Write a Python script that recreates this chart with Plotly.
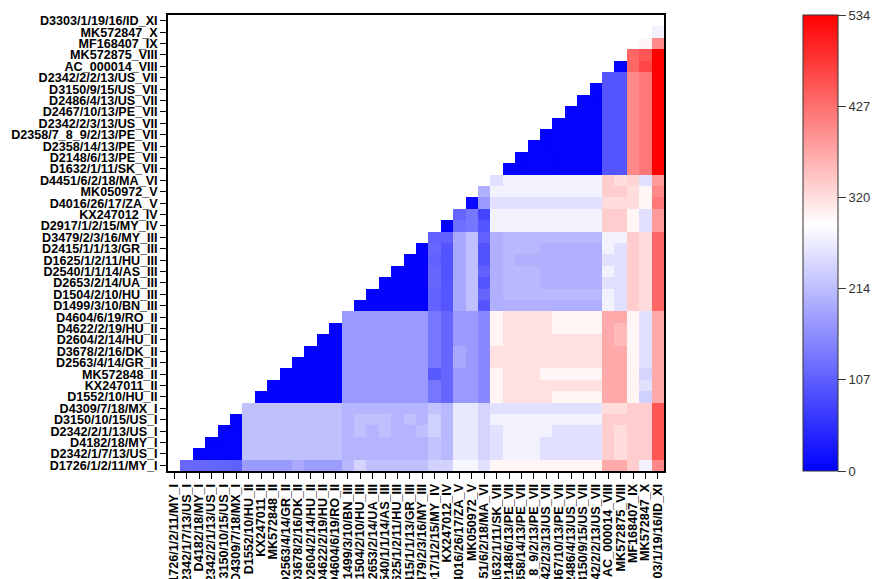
import plotly.graph_objects as go

# Sequence names, bottom (index 0) to top (index 39); same order left-to-right on x
names = [
    "D1726/1/2/11/MY_I", "D2342/1/7/13/US_I", "D4182/18/MY_I", "D2342/2/1/13/US_I",
    "D3150/10/15/US_I", "D4309/7/18/MX_I",
    "D1552/10/HU_II", "KX247011_II", "MK572848_II", "D2563/4/14/GR_II",
    "D3678/2/16/DK_II", "D2604/2/14/HU_II", "D4622/2/19/HU_II", "D4604/6/19/RO_II",
    "D1499/3/10/BN_III", "D1504/2/10/HU_III", "D2653/2/14/UA_III", "D2540/1/1/14/AS_III",
    "D1625/1/2/11/HU_III", "D2415/1/1/13/GR_III", "D3479/2/3/16/MY_III",
    "D2917/1/2/15/MY_IV", "KX247012_IV",
    "D4016/26/17/ZA_V", "MK050972_V",
    "D4451/6/2/18/MA_VI",
    "D1632/1/11/SK_VII", "D2148/6/13/PE_VII", "D2358/14/13/PE_VII",
    "D2358/7_8_9/2/13/PE_VII", "D2342/2/3/13/US_VII", "D2467/10/13/PE_VII",
    "D2486/4/13/US_VII", "D3150/9/15/US_VII", "D2342/2/2/13/US_VII",
    "AC_000014_VIII", "MK572875_VIII",
    "MF168407_IX", "MK572847_X", "D3303/1/19/16/ID_XI",
]

# Upper-triangle distances: row i holds values for columns i+1 .. 39
row_00 = [118, 116, 114, 112, 110] + [175]*4 + [192] + [176]*3 + [208, 240] + [217]*5 + [238, 238] + [278, 278] + [255] + [298]*9 + [370, 370, 337, 272, 403]
row_01 = [3, 4, 3, 4] + [217]*8 + [205]*7 + [220, 208, 262, 262, 240, 255] + [274]*3 + [255]*5 + [337, 321, 337, 337, 452]
row_02 = [3, 3, 4] + [217]*8 + [205]*7 + [220, 208, 262, 262, 240, 255] + [274]*3 + [255]*5 + [337, 321, 337, 337, 452]
row_03 = [3, 3] + [217]*8 + [205, 217, 205, 217, 205, 205, 217] + [235, 208, 262, 262, 240, 255] + [274]*4 + [255]*4 + [337, 321, 337, 337, 452]
row_04 = [3] + [217]*8 + [205, 217, 217, 217, 205, 217, 205] + [235, 208, 262, 262, 240] + [274]*9 + [337, 337, 337, 337, 452]
row_05 = [217]*8 + [205]*7 + [220, 208, 262, 262, 240] + [255]*9 + [321, 321, 337, 337, 452]
row_06 = [3]*7 + [175]*7 + [134, 115, 175, 175, 154, 298] + [317]*4 + [298]*4 + [370, 370, 298, 235, 370]
row_07 = [3]*6 + [175]*7 + [134, 115, 175, 175, 154, 298] + [317]*8 + [370, 370, 298, 255, 370]
row_08 = [3]*5 + [175]*7 + [100, 115, 175, 175, 154, 298] + [317]*3 + [298]*5 + [370, 370, 298, 240, 370]
row_09 = [3]*4 + [175]*7 + [134, 115, 190, 175, 154, 317] + [317]*8 + [370, 370, 298, 255, 370]
row_10 = [3]*3 + [175]*7 + [134, 115, 190, 175, 154, 317] + [317]*8 + [370, 370, 298, 255, 370]
row_11 = [3]*2 + [175]*7 + [134, 115, 175, 175, 154, 298] + [317]*8 + [370, 355, 298, 255, 370]
row_12 = [3] + [175]*7 + [134, 115, 175, 175, 154, 298] + [317]*4 + [298]*4 + [370, 355, 298, 255, 370]
row_13 = [175]*7 + [134, 115, 175, 175, 154, 298] + [317]*4 + [298]*4 + [370, 370, 298, 255, 370]
row_14 = [3]*6 + [112, 96, 190, 217, 96] + [199]*9 + [274, 255, 337, 321, 436]
row_15 = [3]*5 + [112, 96, 190, 217, 115, 199] + [208]*8 + [274, 255, 337, 321, 436]
row_16 = [3]*4 + [115, 96, 190, 217, 96, 199] + [208]*3 + [199]*5 + [255, 255, 337, 321, 436]
row_17 = [3]*3 + [115, 94, 190, 217, 110, 199] + [208]*3 + [199]*5 + [274, 255, 337, 321, 436]
row_18 = [3]*2 + [110, 94, 190, 217, 94, 199, 208] + [199]*7 + [255, 255, 337, 321, 436]
row_19 = [3] + [115, 94, 190, 217, 94, 199] + [208]*3 + [199]*5 + [274, 255, 337, 321, 436]
row_20 = [110, 110, 190, 217, 110, 199] + [208]*8 + [274, 274, 337, 321, 436]
row_21 = [3, 125, 134, 96] + [274]*9 + [337, 337, 298, 255, 386]
row_22 = [115, 134, 77] + [274]*9 + [337, 337, 298, 255, 386]
row_23 = [10, 175] + [255]*9 + [321, 321, 321, 298, 419]
row_24 = [199] + [274]*9 + [337, 337, 321, 298, 403]
row_25 = [255] + [274]*8 + [337, 321, 330, 255, 386]
row_26 = [4, 3, 5, 4, 3, 6, 4, 5] + [96, 96, 403, 419, 534]
row_27 = [3, 5, 4, 3, 5, 4, 6] + [96, 96, 403, 419, 534]
row_28 = [4, 3, 5, 4, 3, 5] + [96, 96, 403, 419, 534]
row_29 = [3, 4, 3, 5, 4] + [96, 96, 403, 419, 534]
row_30 = [5, 4, 3, 4] + [96, 96, 403, 419, 534]
row_31 = [3, 4, 5] + [96, 96, 403, 419, 534]
row_32 = [4, 3] + [96, 96, 403, 419, 534]
row_33 = [4] + [96, 96, 403, 419, 534]
row_34 = [96, 96, 403, 419, 534]
row_35 = [5, 436, 468, 534]
row_36 = [436, 452, 534]
row_37 = [296, 403]
row_38 = [272]
row_39 = []

rows = [row_00, row_01, row_02, row_03, row_04, row_05, row_06, row_07, row_08, row_09,
        row_10, row_11, row_12, row_13, row_14, row_15, row_16, row_17, row_18, row_19,
        row_20, row_21, row_22, row_23, row_24, row_25, row_26, row_27, row_28, row_29,
        row_30, row_31, row_32, row_33, row_34, row_35, row_36, row_37, row_38, row_39]

colorbar_ticks = [0, 107, 214, 320, 427, 534]

n = len(names)
z = []
for i, r in enumerate(rows):
    assert len(r) == n - 1 - i, (i, len(r))
    z.append([None] * (i + 1) + r)

fig = go.Figure(go.Heatmap(
    z=z, x=names, y=names,
    zmin=0, zmax=534,
    colorscale=[[0, "#0000ff"], [0.54, "#ffffff"], [1, "#ff0000"]],
    xgap=0, ygap=0,
    colorbar=dict(
        x=1.28, xanchor="left", xpad=0,
        y=0.5, yanchor="middle", ypad=0,
        len=1, lenmode="fraction",
        thickness=35, thicknessmode="pixels",
        tickvals=colorbar_ticks, ticktext=[str(t) for t in colorbar_ticks],
        ticks="outside", ticklen=8, tickcolor="#333", tickwidth=1,
        tickfont=dict(family="Liberation Sans, Arial", size=13, color="#333"),
        outlinewidth=1, outlinecolor="#333",
    ),
))

tickfont = dict(family="Liberation Sans, Arial", size=12.6, color="black", weight="bold")
fig.update_xaxes(
    type="category", tickmode="array", tickvals=names, ticktext=names,
    tickangle=-90, tickfont=tickfont,
    ticks="outside", ticklen=6, tickcolor="black", tickwidth=1.2,
    showline=True, mirror=True, linecolor="black", linewidth=1.8,
    showgrid=False, zeroline=False, automargin=False,
)
fig.update_yaxes(
    type="category", tickmode="array", tickvals=names, ticktext=names,
    tickfont=tickfont,
    ticks="outside", ticklen=6, tickcolor="black", tickwidth=1.2,
    showline=True, mirror=True, linecolor="black", linewidth=1.8,
    showgrid=False, zeroline=False, automargin=False,
)
fig.update_layout(
    width=883, height=579, autosize=False,
    margin=dict(l=168, r=211, t=15, b=108),
    plot_bgcolor="white", paper_bgcolor="white",
    showlegend=False,
)
fig.write_html(
    "out.html",
    config={"displayModeBar": False, "responsive": False},
    post_script=(
        "document.documentElement.style.overflow='hidden';"
        "document.body.style.overflow='hidden';"
        "document.body.style.margin='0';document.body.style.padding='0';"
        "var gd=document.getElementById('{plot_id}');"
        "Plotly.relayout(gd,{width:883,height:579});"
    ),
)
